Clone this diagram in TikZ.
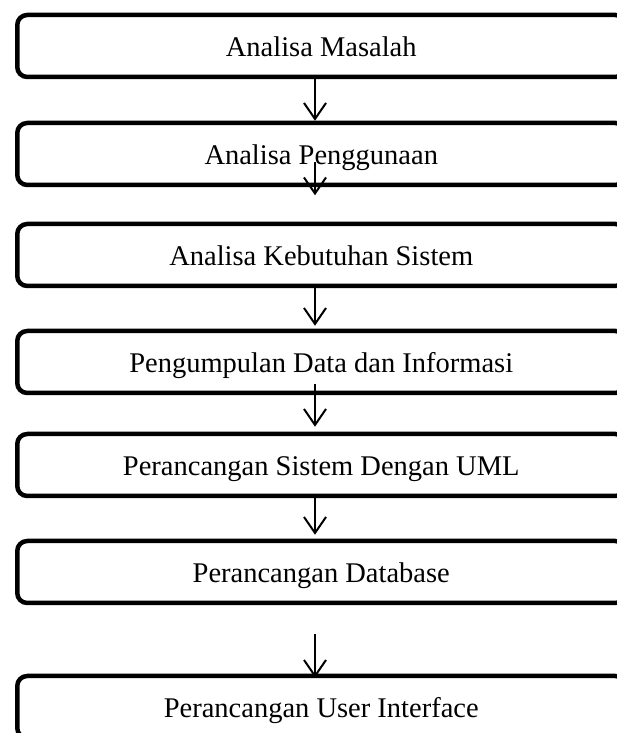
\documentclass[tikz,border=0pt]{standalone}
\usepackage{fontspec}
\setmainfont{Liberation Serif}
\usetikzlibrary{arrows.meta}

\begin{document}
\begin{tikzpicture}[x=1pt, y=1pt]
	\useasboundingbox (0,0) rectangle (617,733);
	\clip (0,0) rectangle (617,733);
	\tikzset{
		stage/.style={draw, line width=4.5pt, rounded corners=10pt, anchor=west,
			minimum width=608pt, minimum height=62pt, inner sep=0pt,
			text height=21pt, text depth=0pt, font=\fontsize{28.5}{34}\selectfont},
		flow/.style={line width=2pt, -{Straight Barb[length=16pt, width=22pt, line width=2pt]}}
	}

	% stages
	\node[stage] (masalah) at (15,687) {Analisa Masalah};
	\node[stage] (guna) at (15,579) {Analisa Penggunaan};
	\node[stage] (kebutuhan) at (15,478) {Analisa Kebutuhan Sistem};
	\node[stage] (data) at (15,371) {Pengumpulan Data dan Informasi};
	\node[stage] (uml) at (15,268) {Perancangan Sistem Dengan UML};
	\node[stage] (database) at (15,161) {Perancangan Database};
	\node[stage] (ui) at (15,26) {Perancangan User Interface};

	% arrows
	\coordinate (col) at (315,0);
	\draw[flow] (masalah.south -| col) -- (guna.north -| col);
	\draw[flow] ([yshift=25pt]guna.south -| col) -- ([yshift=-8pt]guna.south -| col);
	\draw[flow] ([yshift=4pt]kebutuhan.south -| col) -- ([yshift=3pt]data.north -| col);
	\draw[flow] ([yshift=11pt]data.south -| col) -- ([yshift=5pt]uml.north -| col);
	\draw[flow] ([yshift=4pt]uml.south -| col) -- ([yshift=4pt]database.north -| col);
	\draw[flow] ([yshift=-29pt]database.south -| col) -- ([yshift=-4pt]ui.north -| col);

\end{tikzpicture}
\end{document}
